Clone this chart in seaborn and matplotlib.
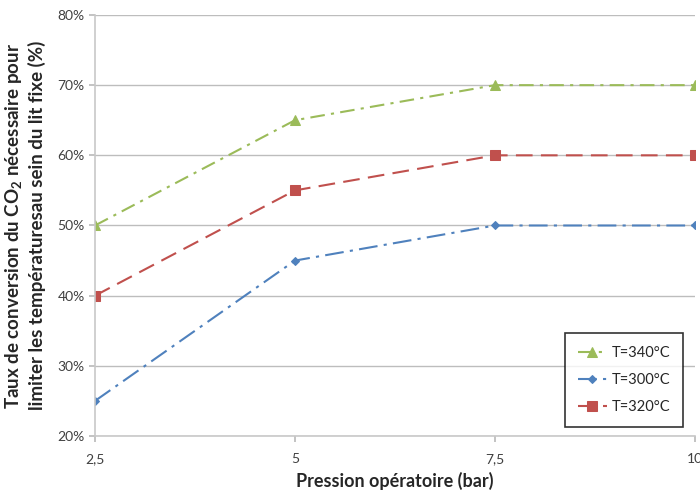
import numpy as np
import pandas as pd
import seaborn as sns
import matplotlib.pyplot as plt
from matplotlib.ticker import FuncFormatter

pression = [2.5, 5, 7.5, 10]
t340 = [0.50, 0.65, 0.70, 0.70]
t300 = [0.25, 0.45, 0.50, 0.50]
t320 = [0.40, 0.55, 0.60, 0.60]
x_labels = ['2,5', '5', '7,5', '10']

sns.set_theme(style='white')
plt.rcParams['font.family'] = ['Lato', 'DejaVu Sans']
plt.rcParams['mathtext.fontset'] = 'custom'
plt.rcParams['mathtext.rm'] = 'Lato'
plt.rcParams['mathtext.bf'] = 'Lato:bold'

fig = plt.figure(figsize=(7, 4.91), dpi=100)
ax = fig.add_axes([0.1357, 0.112, 0.857, 0.8575])

series = [
    ('T=340°C', t340, '#9BBB59', (0, (7, 3, 1.5, 3)), '^'),
    ('T=300°C', t300, '#4F81BD', (0, (9, 3, 1.5, 3)), 'D'),
    ('T=320°C', t320, '#C0504D', (0, (8, 4)), 's'),
]
for name, vals, col, ls, mk in series:
    sns.lineplot(x=pression, y=vals, ax=ax, color=col, linestyle=ls, lw=1.5,
                 marker=mk, markersize=6.5 if mk != 'D' else 4.5,
                 markeredgecolor=col, label=name)

ax.set_xlim(2.5, 10)
ax.set_ylim(0.2, 0.8)
ax.set_xticks(pression)
ax.set_xticklabels(x_labels)
ax.set_yticks(np.arange(0.2, 0.81, 0.1))
ax.yaxis.set_major_formatter(FuncFormatter(lambda v, p: f'{v*100:.0f}%'))
ax.tick_params(axis='both', labelsize=10, colors='#404040')
ax.tick_params(axis='x', bottom=True, length=4, color='#bbbbbb', pad=8)
ax.tick_params(axis='y', left=True, length=4, color='#bbbbbb')
ax.grid(axis='y', color='#bdbdbd', lw=1)
for s in ['top', 'right']:
    ax.spines[s].set_visible(False)
for s in ['left', 'bottom']:
    ax.spines[s].set_color('#c8c8c8')
    ax.spines[s].set_linewidth(1.2)

ax.set_xlabel('Pression opératoire (bar)', fontsize=13, fontweight='bold', labelpad=5)
ax.set_ylabel('Taux de conversion du CO$_\\mathbf{2}$ nécessaire pour\n'
              'limiter les températuresau sein du lit fixe (%)',
              fontsize=13.5, fontweight='bold', labelpad=8, linespacing=1.2)

leg = ax.legend(loc='lower right', bbox_to_anchor=(0.995, 0.0), fontsize=10.5,
                frameon=True, fancybox=False, edgecolor='black',
                labelspacing=0.9, borderpad=0.9, handlelength=2.0,
                handletextpad=0.3, borderaxespad=0.6)
leg.get_frame().set_linewidth(1.2)

fig.savefig('out.png', dpi=100)
